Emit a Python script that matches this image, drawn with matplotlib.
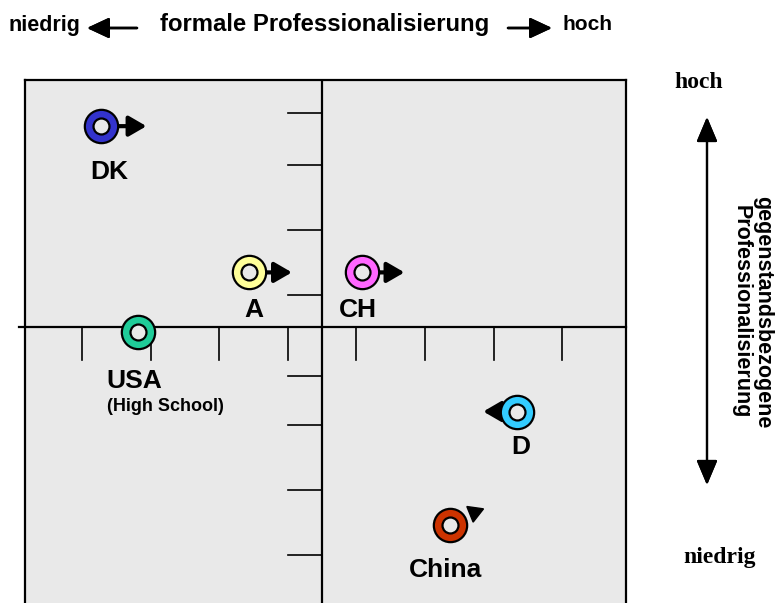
import matplotlib
matplotlib.use("Agg")
import matplotlib.pyplot as plt
from matplotlib.patches import ArrowStyle

plt.rcParams['font.family'] = ['Liberation Sans', 'DejaVu Sans']

# ── Daten ──────────────────────────────────────────────
laender = ["DK", "A", "CH", "USA", "D", "China"]
formal = [-3.22, -1.06, 0.58, -2.68, 2.84, 1.87]        # formale Professionalisierung
gegenstand = [3.09, 0.84, 0.84, -0.07, -1.30, -3.05]    # gegenstandsbezogene Prof.
farben = ["#3333cc", "#ffff99", "#ff66ff", "#1fcc99", "#33ccff", "#cc3300"]

# Tendenz: Pfeilspitze relativ zum Punkt (None = kein Pfeil)
pfeil_dx = [0.66, 0.62, 0.62, None, -0.49, None]
# China: nur Pfeilspitze (Dreieck) oben rechts, nach unten zeigend
china_spitze_dx = 0.34
china_spitze_dy = 0.21

x_ticks = [-3.5, -2.5, -1.5, -0.5, 0.5, 1.5, 2.5, 3.5]
y_ticks = [3.3, 2.5, 1.5, 0.5, -0.75, -1.5, -2.5, -3.5]

BG = "#e9e9e9"

fig = plt.figure(figsize=(7.8, 6.03), dpi=100)
ax = fig.add_axes([25 / 780, 0, 601 / 780, 523 / 603])
ax.set_facecolor(BG)
ax.set_xlim(-4.33, 4.43)
ax.set_ylim(-4.246, 3.8)
ax.set_xticks([])
ax.set_yticks([])
for s in ["top", "left", "right"]:
    ax.spines[s].set_linewidth(1.6)
ax.spines["bottom"].set_visible(False)

# Achsenkreuz
ax.plot([-4.42, 4.43], [0, 0], color="black", lw=1.6, clip_on=False, zorder=2)
ax.plot([0, 0], [-4.246, 3.8], color="black", lw=1.6, zorder=2)
for xt in x_ticks:
    ax.plot([xt, xt], [0, -0.51], color="black", lw=1.2, zorder=2)
for yt in y_ticks:
    ax.plot([-0.5, 0], [yt, yt], color="black", lw=1.2, zorder=2)

# Pfeile (Tendenz)
kopf = ArrowStyle("-|>", head_length=0.62, head_width=0.36)
for i in range(len(laender)):
    if pfeil_dx[i] is None:
        continue
    ax.annotate("", xy=(formal[i] + pfeil_dx[i], gegenstand[i]),
                xytext=(formal[i], gegenstand[i]),
                arrowprops=dict(arrowstyle=kopf, color="black", lw=3.0,
                                mutation_scale=17, shrinkA=0, shrinkB=0),
                zorder=4)
ci = laender.index("China")
ax.plot(formal[ci] + china_spitze_dx, gegenstand[ci] + china_spitze_dy,
        marker=(3, 0, 172), ms=14, color="black", zorder=4)

# Punkte (Ringe)
for i in range(len(laender)):
    ax.plot(formal[i], gegenstand[i], "o", ms=24, mfc=farben[i], mec="black",
            mew=1.6, zorder=5)
    ax.plot(formal[i], gegenstand[i], "o", ms=11.5, mfc=BG, mec="black",
            mew=1.6, zorder=6)

# Beschriftungen
offsets = {"DK": (8, -46), "A": (4, -38), "CH": (-4, -38),
           "USA": (-4, -49), "D": (4, -35), "China": (-5, -45)}
for i, name in enumerate(laender):
    ax.annotate(name, (formal[i], gegenstand[i]), xytext=offsets[name],
                textcoords="offset pixels", ha="center", va="center",
                fontsize=19, fontweight="bold", zorder=7)
ax.annotate("(High School)", (formal[3], gegenstand[3]), xytext=(27, -75),
            textcoords="offset pixels", ha="center", va="center",
            fontsize=13, fontweight="bold", zorder=7)

# Oben: formale Professionalisierung
yt = 1 - 25 / 603
fig.text(8 / 780, yt, "niedrig", ha="left", va="center", fontsize=15.5, fontweight="bold")
fig.text(325 / 780, yt, "formale Professionalisierung", ha="center", va="center",
         fontsize=17.2, fontweight="bold")
fig.text(612 / 780, yt, "hoch", ha="right", va="center", fontsize=15, fontweight="bold")
ya = 1 - 28 / 603
klein = ArrowStyle("-|>", head_length=0.9, head_width=0.42)
fig.add_artist(plt.annotate("", xy=(87 / 780, ya), xytext=(137 / 780, ya),
                            xycoords="figure fraction", textcoords="figure fraction",
                            arrowprops=dict(arrowstyle=klein, color="black", lw=1.8,
                                            mutation_scale=15, shrinkA=0, shrinkB=0)))
fig.add_artist(plt.annotate("", xy=(552 / 780, ya), xytext=(508 / 780, ya),
                            xycoords="figure fraction", textcoords="figure fraction",
                            arrowprops=dict(arrowstyle=klein, color="black", lw=1.8,
                                            mutation_scale=15, shrinkA=0, shrinkB=0)))

# Rechts: gegenstandsbezogene Professionalisierung
fig.text(699 / 780, 1 - 83 / 603, "hoch", ha="center", va="center",
         fontsize=17, fontweight="bold", family="Liberation Serif")
fig.text(720 / 780, 1 - 557 / 603, "niedrig", ha="center", va="center",
         fontsize=17, fontweight="bold", family="Liberation Serif")
doppel = ArrowStyle("<|-|>", head_length=0.95, head_width=0.4)
fig.add_artist(plt.annotate("", xy=(707 / 780, 1 - 117 / 603), xytext=(707 / 780, 1 - 485 / 603),
                            xycoords="figure fraction", textcoords="figure fraction",
                            arrowprops=dict(arrowstyle=doppel, color="black", lw=1.6,
                                            mutation_scale=16, shrinkA=0, shrinkB=0)))
fig.text(752 / 780, 1 - 312 / 603, "gegenstandsbezogene\nProfessionalisierung",
         ha="center", va="center", rotation=-90, fontsize=15.5, fontweight="bold",
         linespacing=1.0)

fig.savefig("out.png", dpi=100)
